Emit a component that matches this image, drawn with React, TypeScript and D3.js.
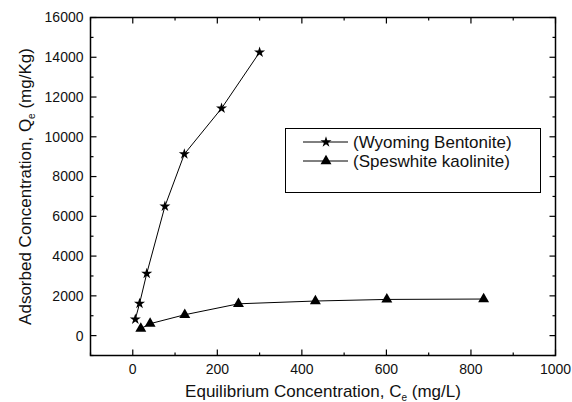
import React from "react";
import * as d3 from "d3";

const bentoniteX = [6, 16, 33, 76, 122, 210, 300];
const bentoniteY = [820, 1610, 3120, 6500, 9130, 11430, 14250];
const kaoliniteX = [19, 41, 123, 250, 432, 601, 830];
const kaoliniteY = [350, 600, 1050, 1600, 1740, 1820, 1840];
const xMajorTicks = [0, 200, 400, 600, 800, 1000];
const xMinorTicks = [-100, 100, 300, 500, 700, 900];
const yMajorTicks = [0, 2000, 4000, 6000, 8000, 10000, 12000, 14000, 16000];
const yMinorTicks = [-1000, 1000, 3000, 5000, 7000, 9000, 11000, 13000, 15000];
const seriesNames = ["(Wyoming Bentonite)", "(Speswhite kaolinite)"];

const W = 572, H = 402;
const L = 90.5, R = 555.5, T = 17.5, B = 355.5;
const FONT = "'Liberation Sans', Arial, sans-serif";

export default function App() {
  const x = d3.scaleLinear().domain([-100, 1000]).range([L, R]);
  const y = d3.scaleLinear().domain([-1000, 16000]).range([B, T]);
  const line = d3.line<[number, number]>().x(d => x(d[0])).y(d => y(d[1]));
  const bent: [number, number][] = bentoniteX.map((v, i) => [v, bentoniteY[i]]);
  const kao: [number, number][] = kaoliniteX.map((v, i) => [v, kaoliniteY[i]]);
  const star = d3.symbol().type(d3.symbolStar).size(38)()!;
  const tri = d3.symbol().type(d3.symbolTriangle).size(52)()!;
  const maj = 6, min = 3;

  return (
    <svg width={W} height={H} style={{ position: "absolute", left: 0, top: 0, background: "#fff" }} fontFamily={FONT}>
      <rect x={0} y={0} width={W} height={H} fill="#fff" />
      <g stroke="#000" strokeWidth={1.2}>
        {xMajorTicks.map(t => (
          <g key={"xm" + t}>
            <line x1={x(t)} x2={x(t)} y1={B} y2={B - maj} />
            <line x1={x(t)} x2={x(t)} y1={T} y2={T + maj} />
          </g>
        ))}
        {xMinorTicks.map(t => (
          <g key={"xn" + t}>
            <line x1={x(t)} x2={x(t)} y1={B} y2={B - min} />
            <line x1={x(t)} x2={x(t)} y1={T} y2={T + min} />
          </g>
        ))}
        {yMajorTicks.map(t => (
          <g key={"ym" + t}>
            <line x1={L} x2={L + maj} y1={y(t)} y2={y(t)} />
            <line x1={R} x2={R - maj} y1={y(t)} y2={y(t)} />
          </g>
        ))}
        {yMinorTicks.map(t => (
          <g key={"yn" + t}>
            <line x1={L} x2={L + min} y1={y(t)} y2={y(t)} />
            <line x1={R} x2={R - min} y1={y(t)} y2={y(t)} />
          </g>
        ))}
      </g>
      <rect x={L} y={T} width={R - L} height={B - T} fill="none" stroke="#000" strokeWidth={1.5} />
      <g fontSize={14} fill="#111">
        {xMajorTicks.map(t => (
          <text key={"xl" + t} x={x(t)} y={373.5} textAnchor="middle">{t}</text>
        ))}
        {yMajorTicks.map(t => (
          <text key={"yl" + t} x={83.5} y={y(t)} dy="0.35em" textAnchor="end">{t}</text>
        ))}
      </g>
      <text x={(L + R) / 2} y={397} textAnchor="middle" fontSize={17} fill="#111">
        Equilibrium Concentration, C<tspan fontSize={10} dy={4}>e</tspan><tspan dy={-4}> (mg/L)</tspan>
      </text>
      <text transform={`translate(31,${(T + B) / 2}) rotate(-90)`} textAnchor="middle" fontSize={17} fill="#111">
        Adsorbed Concentration, Q<tspan fontSize={10} dy={4}>e</tspan><tspan dy={-4}> (mg/Kg)</tspan>
      </text>
      <path d={line(bent)!} fill="none" stroke="#000" strokeWidth={1} />
      <path d={line(kao)!} fill="none" stroke="#000" strokeWidth={1} />
      {bent.map((d, i) => (
        <path key={"s" + i} d={star} transform={`translate(${x(d[0])},${y(d[1])})`} fill="#000" />
      ))}
      {kao.map((d, i) => (
        <path key={"t" + i} d={tri} transform={`translate(${x(d[0])},${y(d[1])})`} fill="#000" />
      ))}
      <rect x={285.5} y={128.5} width={255} height={64} fill="#fff" stroke="#000" strokeWidth={1} />
      {seriesNames.map((name, i) => {
        const ly = 142 + i * 19;
        return (
          <g key={name}>
            <line x1={303} x2={348} y1={ly} y2={ly} stroke="#000" strokeWidth={1} />
            <path d={i === 0 ? star : tri} transform={`translate(326,${ly})`} fill="#000" />
            <text x={353} y={ly} dy="0.35em" fontSize={17} fill="#111">{name}</text>
          </g>
        );
      })}
    </svg>
  );
}
